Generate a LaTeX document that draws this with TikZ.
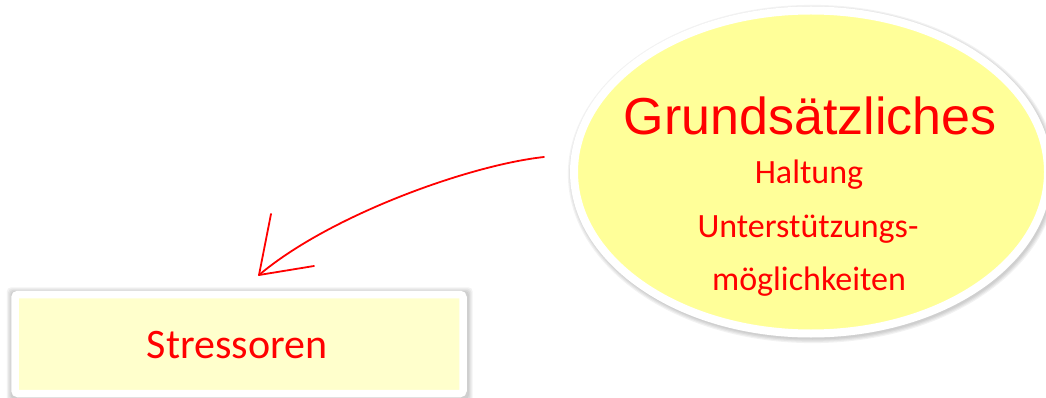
\documentclass[tikz,border=0pt]{standalone}
\usepackage{fontspec}
\setmainfont{Liberation Sans}
\newfontfamily\handfont{Carlito}
\usetikzlibrary{shapes.geometric}
\definecolor{ovalfill}{HTML}{FFFF99}
\definecolor{boxfill}{HTML}{FFFFCC}
\definecolor{inkred}{HTML}{FF0000}
\tikzset{
  haze/.style={fill=black,opacity=0.05},
  oval/.style={ellipse,draw=white,line width=8pt,fill=ovalfill,inner sep=0pt},
  notebox/.style={rectangle,rounded corners=3pt,draw=white,line width=7.5pt,fill=boxfill,inner sep=0pt},
  title/.style={anchor=base,text=inkred,font=\fontsize{52}{52}\selectfont,inner sep=0pt},
  hand/.style={anchor=base,text=inkred,font=\handfont\fontsize{34}{34}\selectfont,inner sep=0pt},
  connector/.style={draw=inkred,line width=1.8pt,line cap=round}
}
\begin{document}
\begin{tikzpicture}[x=1pt,y=-1pt]
\useasboundingbox (0,0) rectangle (1046,398);
% soft shadows under the oval and the box
\foreach \k in {0,1.2,2.4,3.6} {
  \fill[haze] (812.5,174) ellipse [x radius=241+\k, y radius=165.5+\k];
  \fill[haze,rounded corners=4pt] (10.5-\k,291-\k) rectangle (469+\k,399+\k);
}
% oval with the guiding principles
\node[oval,minimum width=474pt,minimum height=323pt] (oval) at (811,172) {};
\node[title] (grund) at (810,135) {Grundsätzliches};
\node[hand] (haltung) at (809,183) {Haltung};
\node[hand] (unterst) at (808,237) {Unterstützungs-};
\node[hand] (moegl) at (809,290) {möglichkeiten};
% box for the stressors
\node[notebox,minimum width=448pt,minimum height=99pt] (stress) at (239,344) {};
\node[hand,font=\handfont\fontsize{42}{42}\selectfont] (stresstxt) at (237,358) {Stressoren};
% hand-drawn arrow between them
\coordinate (arrstart) at (544,157);
\coordinate (arrtip) at (259,275);
\draw[connector] (arrstart) .. controls (470,165) and (330,215) .. (arrtip);
\draw[connector] (arrtip) -- ++(12,-61);
\draw[connector] (arrtip) -- ++(55,-9);
\end{tikzpicture}
\end{document}
